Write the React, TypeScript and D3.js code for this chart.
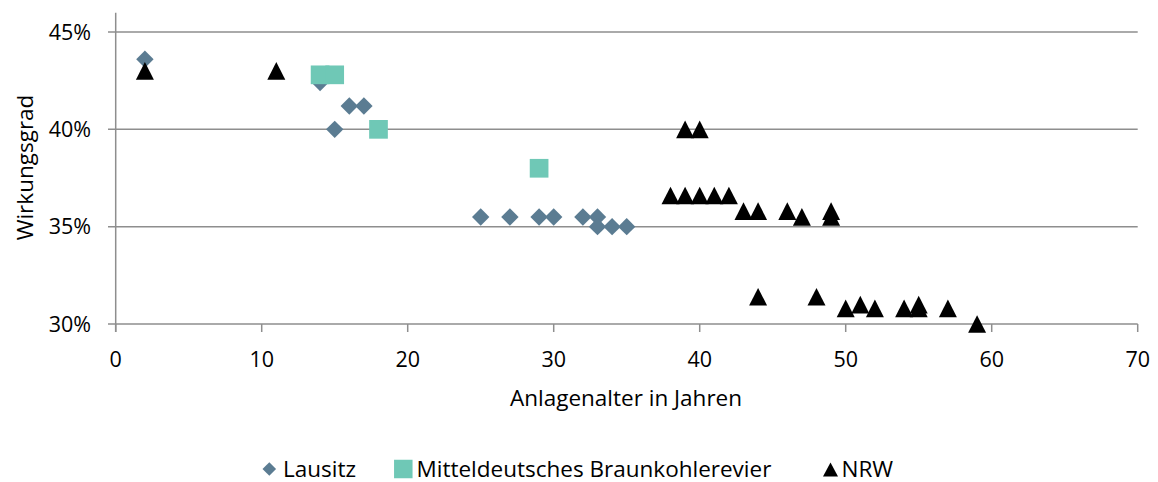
import React from "react";
import * as d3 from "d3";

// Anlagenalter (Jahre) / Wirkungsgrad (%)
const lausitzAge = [2, 14, 15, 16, 17, 25, 27, 29, 30, 32, 33, 33, 34, 35];
const lausitzEff = [43.6, 42.4, 40, 41.2, 41.2, 35.5, 35.5, 35.5, 35.5, 35.5, 35.5, 35, 35, 35];

const mdAge = [14, 15, 18, 29];
const mdEff = [42.8, 42.8, 40, 38];

const nrwAge = [2, 11, 39, 40, 38, 39, 40, 41, 42, 43, 44, 46, 47, 49, 49, 44, 48, 50, 51, 52, 54, 55, 55, 57, 59];
const nrwEff = [43, 43, 40, 40, 36.6, 36.6, 36.6, 36.6, 36.6, 35.8, 35.8, 35.8, 35.5, 35.8, 35.5, 31.4, 31.4, 30.8, 31, 30.8, 30.8, 31, 30.8, 30.8, 30];

const xTicks = [0, 10, 20, 30, 40, 50, 60, 70];
const yTicks = [30, 35, 40, 45];
const seriesNames = ["Lausitz", "Mitteldeutsches Braunkohlerevier", "NRW"];

const W = 1158;
const H = 482;
const FONT = "'Open Sans', 'Noto Sans', sans-serif";
const GRID = "#8e8e8e";
const COL_L = "#5b7c92";
const COL_M = "#6fc8b6";
const COL_N = "#000000";

const x = d3.scaleLinear().domain([0, 70]).range([115.7, 1137.7]);
const y = d3.scaleLinear().domain([30, 45]).range([324, 32]);

function diamond(cx, cy, r) {
  return `M${cx},${cy - r}L${cx + r},${cy}L${cx},${cy + r}L${cx - r},${cy}Z`;
}
function square(cx, cy, s) {
  return `M${cx - s / 2},${cy - s / 2}h${s}v${s}h${-s}Z`;
}
function triangle(cx, cy, w, h) {
  return `M${cx},${cy - h / 2}L${cx + w / 2},${cy + h / 2}L${cx - w / 2},${cy + h / 2}Z`;
}

export default function App() {
  return (
    <svg width={W} height={H} style={{ position: "absolute", left: 0, top: 0, background: "#fff" }}
      fontFamily={FONT}>
      {/* gridlines + y ticks */}
      {yTicks.map(t => (
        <g key={"y" + t}>
          <line x1={108} x2={x(70)} y1={y(t)} y2={y(t)} stroke={GRID} strokeWidth={1.5} />
          <text x={91} y={y(t)} dy="0.36em" textAnchor="end" fontSize={21.5} fill="#000">{t + "%"}</text>
        </g>
      ))}
      {/* y axis line */}
      <line x1={x(0)} x2={x(0)} y1={12.7} y2={332} stroke={GRID} strokeWidth={1.5} />
      {/* x ticks */}
      {xTicks.map(t => (
        <g key={"x" + t}>
          <line x1={x(t)} x2={x(t)} y1={y(30)} y2={332} stroke={GRID} strokeWidth={1.5} />
          <text x={x(t)} y={366.5} textAnchor="middle" fontSize={21.5} fill="#000">{t}</text>
        </g>
      ))}
      <text x={626} y={406} textAnchor="middle" fontSize={22.5} fill="#000">Anlagenalter in Jahren</text>
      <text transform={`translate(33,167.5) rotate(-90)`} textAnchor="middle" fontSize={22.5} fill="#000">Wirkungsgrad</text>

      {/* data */}
      {lausitzAge.map((a, i) => (
        <path key={"l" + i} d={diamond(x(a), y(lausitzEff[i]), 8.7)} fill={COL_L} />
      ))}
      {mdAge.map((a, i) => (
        <path key={"m" + i} d={square(x(a), y(mdEff[i]), 18.7)} fill={COL_M} />
      ))}
      {nrwAge.map((a, i) => (
        <path key={"n" + i} d={triangle(x(a), y(nrwEff[i]), 18, 17.7)} fill={COL_N} />
      ))}

      {/* legend */}
      <path d={diamond(269.3, 469, 6.8)} fill={COL_L} />
      <text x={283} y={476.5} fontSize={22.5} fill="#000">{seriesNames[0]}</text>
      <path d={square(403.3, 469, 18.5)} fill={COL_M} />
      <text x={416.5} y={476.5} fontSize={22.5} fill="#000">{seriesNames[1]}</text>
      <path d={triangle(830.5, 469.5, 15, 14)} fill={COL_N} />
      <text x={841.5} y={476.5} fontSize={22.5} fill="#000">{seriesNames[2]}</text>
    </svg>
  );
}
